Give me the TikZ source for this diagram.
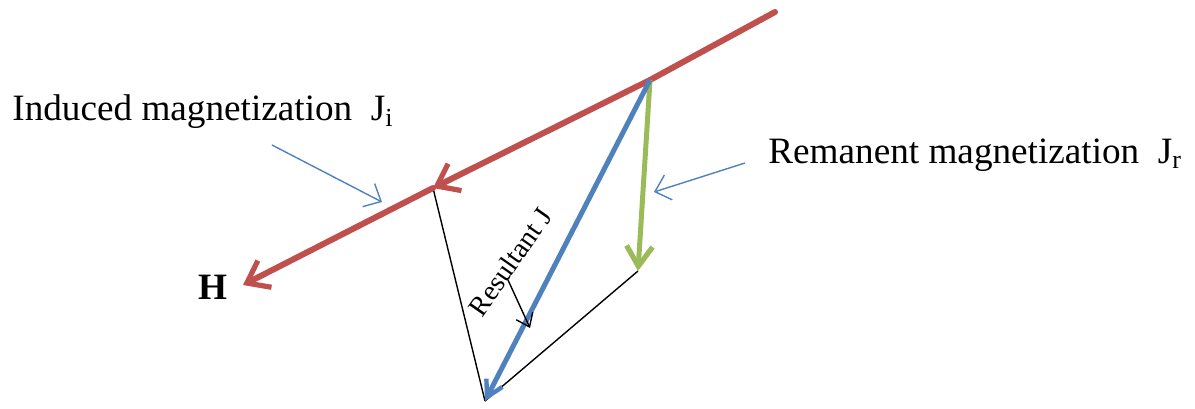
\documentclass[tikz,border=0pt]{standalone}
\usepackage{fontspec}
\setmainfont{Liberation Serif}
\usepackage{xcolor}
\usetikzlibrary{arrows.meta,positioning,calc}
\definecolor{hred}{HTML}{C0504D}
\definecolor{jblue}{HTML}{4F81BD}
\definecolor{rgreen}{HTML}{9BBB59}

\begin{document}
\begin{tikzpicture}[
  x=0.5pt, y=-0.5pt,
  font=\fontsize{18.6}{22}\selectfont,
  label/.style={inner sep=0pt, anchor=west},
  hvec/.style={hred, line width=3pt, line cap=round,
               -{Straight Barb[length=10pt, width=15pt, line width=2.6pt]}},
  rvec/.style={rgreen, line width=2.5pt,
               -{Straight Barb[length=10pt, width=13pt, line width=2.6pt]}},
  jvec/.style={jblue, line width=2.5pt,
               -{Straight Barb[length=8pt, width=9pt, line width=2.2pt]}},
  pointer/.style={jblue, line width=0.7pt,
                  -{Straight Barb[length=7pt, width=13pt]}},
  edge/.style={black, line width=0.7pt}
]
\useasboundingbox (0,0) rectangle (1195,408);
% end points
\coordinate (top) at (775,12);
\coordinate (ji) at (433,188);
\coordinate (h) at (243,285);
\coordinate (o) at (650,80);
\coordinate (jr) at (638,271);
\coordinate (j) at (485,401);
% labels
\node[label] (induced) at (12,112) {Induced magnetization~~J\textsubscript{i}};
\node[label] (remanent) at (768,155) {Remanent magnetization~~J\textsubscript{r}};
\node[inner sep=0pt] (hlab) at (213,287) {\textbf{H}};
\node[inner sep=0pt, rotate=55, font=\fontsize{14}{16}\selectfont] (res) at (510,262) {Resultant J};
% parallelogram
\draw[edge] (ji) -- (j);
\draw[edge] (jr) -- (j);
% vectors
\draw[hred, line width=3pt, line cap=round] (top) -- (o);
\draw[hvec] (o) -- (ji);
\draw[hvec] (ji) -- (h);
\draw[rvec] (o) -- (jr);
\draw[jvec] (o) -- (j);
% pointers
\coordinate (pi) at (272,145);
\coordinate (pit) at (382,202);
\coordinate (pr) at (745,163);
\coordinate (prt) at (654,192);
\coordinate (pj) at (508,280);
\coordinate (pjt) at (530,328);
\draw[pointer] (pi) -- (pit);
\draw[pointer] (pr) -- (prt);
\draw[edge, -{Straight Barb[length=6pt, width=9pt]}] (pj) -- (pjt);
\end{tikzpicture}
\end{document}
